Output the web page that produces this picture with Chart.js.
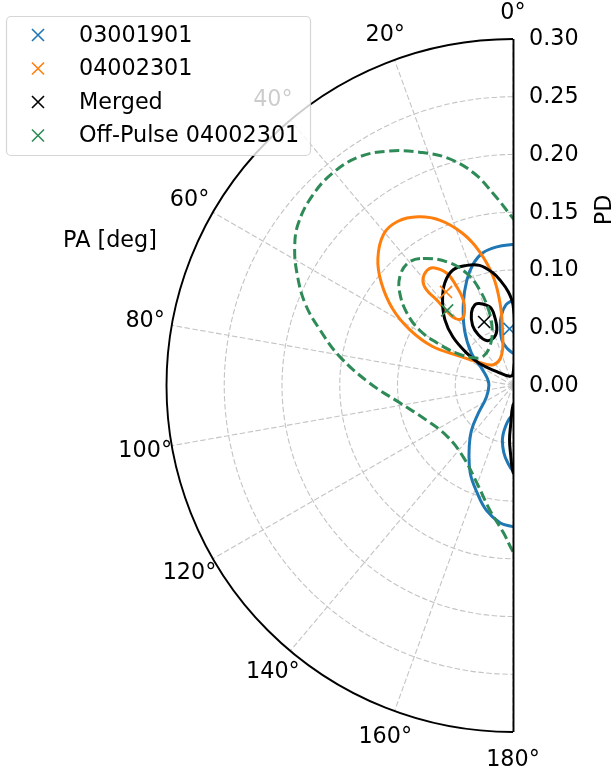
<!DOCTYPE html>
<html>
<head>
<meta charset="utf-8">
<script src="https://cdn.jsdelivr.net/npm/chart.js@4.4.0/dist/chart.umd.min.js"></script>
<style>
  html, body { margin: 0; padding: 0; background: #fff; }
  canvas { display: block; }
</style>
</head>
<body>
<canvas id="chart" width="614" height="774"></canvas>
<script>
// ----------------------------------------
// Polarisation confidence contours (PA / PD half-plane)
// points are in PD units: x = -PD*sin(PA), y = PD*cos(PA)
// ----------------------------------------

const pdTicks = [0, 0.05, 0.10, 0.15, 0.20, 0.25, 0.30];
const paTicks = [0, 20, 40, 60, 80, 100, 120, 140, 160, 180];
const seriesNames = ['03001901', '04002301', 'Merged', 'Off-Pulse 04002301'];

// 03001901 (blue) - open curves are cut by the 0/180 deg edge
const blueOuterX = [0.003, -0.001, -0.014, -0.026, -0.034, -0.040, -0.043, -0.042, -0.036, -0.026, -0.021, -0.023, -0.030, -0.036, -0.038, -0.037, -0.031, -0.023, -0.011, -0.001, 0.003];
const blueOuterY = [0.122, 0.122, 0.120, 0.115, 0.106, 0.091, 0.071, 0.048, 0.028, 0.013, 0.002, -0.010, -0.024, -0.039, -0.056, -0.076, -0.093, -0.108, -0.119, -0.122, -0.123];
const blueInnerX = [0.003, 0, -0.006, -0.010, -0.011, -0.0095, -0.005, 0, 0.003];
const blueInnerY = [0.076, 0.074, 0.070, 0.061, 0.051, 0.039, 0.032, 0.028, 0.027];
const blueLowerX = [0.003, 0, -0.005, -0.009, -0.008, -0.004, 0, 0.003];
const blueLowerY = [-0.023, -0.025, -0.032, -0.045, -0.058, -0.068, -0.074, -0.076];

// 04002301 (orange) - closed curves
const orangeOuterX = [-0.082, -0.063, -0.044, -0.029, -0.017, -0.011, -0.009, -0.010, -0.017, -0.029, -0.048, -0.070, -0.089, -0.104, -0.114, -0.117, -0.112, -0.100];
const orangeOuterY = [0.146, 0.143, 0.132, 0.116, 0.094, 0.070, 0.046, 0.026, 0.018, 0.020, 0.026, 0.034, 0.048, 0.066, 0.089, 0.110, 0.131, 0.142];
const orangeInnerX = [-0.069, -0.057, -0.049, -0.043, -0.042, -0.044, -0.050, -0.057, -0.066, -0.075, -0.078, -0.075];
const orangeInnerY = [0.102, 0.097, 0.086, 0.074, 0.064, 0.058, 0.058, 0.064, 0.074, 0.083, 0.091, 0.099];

// Merged (black)
const blackOuterX = [-0.052, -0.040, -0.029, -0.018, -0.011, -0.004, 0, 0.002, 0, -0.003, -0.014, -0.029, -0.040, -0.052, -0.059, -0.061, -0.059];
const blackOuterY = [0.100, 0.104, 0.104, 0.098, 0.091, 0.081, 0.070, 0.039, 0.010, 0.008, 0.012, 0.019, 0.028, 0.042, 0.057, 0.074, 0.089];
const blackInnerX = [-0.029, -0.020, -0.016, -0.014, -0.017, -0.023, -0.030, -0.035, -0.036, -0.033];
const blackInnerY = [0.071, 0.068, 0.060, 0.048, 0.041, 0.039, 0.044, 0.052, 0.063, 0.070];
const blackLowerX = [0.003, 0, -0.002, -0.003, -0.002, 0, 0.003];
const blackLowerY = [-0.014, -0.017, -0.034, -0.047, -0.060, -0.075, -0.078];

// Off-Pulse 04002301 (green, dashed)
const greenOuterX = [0.003, -0.001, -0.017, -0.034, -0.057, -0.081, -0.107, -0.133, -0.156, -0.174, -0.186, -0.189, -0.187, -0.180, -0.167, -0.150, -0.124, -0.098, -0.075, -0.057, -0.043, -0.031, -0.020, -0.008, -0.001, 0.003];
const greenOuterY = [0.141, 0.146, 0.166, 0.184, 0.197, 0.202, 0.203, 0.198, 0.184, 0.164, 0.140, 0.120, 0.097, 0.071, 0.048, 0.025, 0.002, -0.015, -0.030, -0.044, -0.062, -0.085, -0.108, -0.128, -0.142, -0.148];
const greenInnerX = [-0.078, -0.057, -0.040, -0.029, -0.021, -0.018, -0.020, -0.026, -0.034, -0.049, -0.066, -0.081, -0.092, -0.098, -0.098, -0.091];
const greenInnerY = [0.110, 0.107, 0.097, 0.083, 0.065, 0.048, 0.034, 0.025, 0.024, 0.028, 0.037, 0.048, 0.063, 0.080, 0.094, 0.106];

// best-fit markers
const markerX = [-0.003, -0.058, -0.025, -0.057];
const markerY = [0.049, 0.081, 0.055, 0.065];

const colors = ['#1f77b4', '#ff7f0e', '#000000', '#2e8b57'];
const FONT = '22.3px "DejaVu Sans", sans-serif';
const pdMax = 0.30;

function toPoints(xs, ys) {
  return xs.map((v, i) => ({ x: v, y: ys[i] }));
}

function contour(xs, ys, color, order, dashed, closed) {
  let data = toPoints(xs, ys);
  let segment;
  if (closed) {
    // wrap the loop so the spline has tangents at the join; helper segments are hidden
    const n = data.length;
    data = [data[n - 1]].concat(data, [data[0], data[1]]);
    segment = {
      borderColor: c => (c.p0DataIndex === 0 || c.p1DataIndex === n + 2) ? 'rgba(0,0,0,0)' : undefined
    };
  }
  return {
    data: data,
    showLine: true,
    borderColor: color,
    borderWidth: 3,
    borderDash: dashed ? [10, 4.5] : [],
    pointRadius: 0,
    tension: 0.4,
    clip: 0,
    order: order,
    segment: segment
  };
}

// grid, spine, labels and legend of the half polar axes
const polarFrame = {
  id: 'polarFrame',
  beforeDatasetsDraw(chart) {
    const { ctx, scales: { x, y } } = chart;
    const cx = x.getPixelForValue(0);
    const cy = y.getPixelForValue(0);
    const R = cx - x.getPixelForValue(-pdMax);

    ctx.save();
    ctx.strokeStyle = '#c4c4c4';
    ctx.lineWidth = 1.1;
    ctx.setLineDash([5.5, 2.5]);
    pdTicks.forEach(v => {
      if (v <= 0 || v >= pdMax) return;
      const r = cx - x.getPixelForValue(-v);
      ctx.beginPath();
      ctx.arc(cx, cy, r, -Math.PI / 2, Math.PI / 2, true);
      ctx.stroke();
    });
    paTicks.forEach(a => {
      const t = a * Math.PI / 180;
      ctx.beginPath();
      ctx.moveTo(cx, cy);
      ctx.lineTo(cx - R * Math.sin(t), cy - R * Math.cos(t));
      ctx.stroke();
    });
    ctx.restore();
  },
  afterDatasetsDraw(chart) {
    const { ctx, scales: { x, y } } = chart;
    const cx = x.getPixelForValue(0);
    const cy = y.getPixelForValue(0);
    const R = cx - x.getPixelForValue(-pdMax);

    ctx.save();
    // spines
    ctx.strokeStyle = '#000';
    ctx.lineWidth = 1.9;
    ctx.beginPath();
    ctx.arc(cx, cy, R, -Math.PI / 2, Math.PI / 2, true);
    ctx.stroke();
    ctx.beginPath();
    ctx.moveTo(cx + 0.5, cy - R);
    ctx.lineTo(cx + 0.5, cy + R);
    ctx.stroke();

    // tick labels
    ctx.fillStyle = '#000';
    ctx.font = FONT;
    ctx.textBaseline = 'middle';
    ctx.textAlign = 'center';
    paTicks.forEach(a => {
      const t = a * Math.PI / 180;
      const rl = R + 27;
      ctx.fillText(a + '°', cx - rl * Math.sin(t), cy - rl * Math.cos(t) + 1);
    });
    ctx.textAlign = 'left';
    pdTicks.forEach(v => {
      ctx.fillText(v.toFixed(2), cx + 16, y.getPixelForValue(v) + 0.5);
    });

    // axis labels
    ctx.textAlign = 'center';
    ctx.fillText('PA [deg]', 110, 241.5);
    ctx.save();
    ctx.translate(605, 210);
    ctx.rotate(-Math.PI / 2);
    ctx.fillText('PD', 0, 0);
    ctx.restore();

    // legend
    const bx = 6.5, by = 16.5, bw = 304, bh = 139, rad = 4.5;
    ctx.beginPath();
    ctx.roundRect(bx, by, bw, bh, rad);
    ctx.fillStyle = 'rgba(255,255,255,0.8)';
    ctx.fill();
    ctx.strokeStyle = 'rgba(204,204,204,0.8)';
    ctx.lineWidth = 1.2;
    ctx.stroke();

    const rows = [35, 68.5, 102, 135.5];
    seriesNames.forEach((name, i) => {
      const my = rows[i];
      ctx.strokeStyle = colors[i];
      ctx.lineWidth = 1.6;
      ctx.beginPath();
      ctx.moveTo(38 - 6, my - 6); ctx.lineTo(38 + 6, my + 6);
      ctx.moveTo(38 - 6, my + 6); ctx.lineTo(38 + 6, my - 6);
      ctx.stroke();
      ctx.fillStyle = '#000';
      ctx.textAlign = 'left';
      ctx.fillText(name, 79, my + 1);
    });
    ctx.restore();
  }
};

const datasets = [
  contour(blueOuterX, blueOuterY, colors[0], 4, false, false),
  contour(blueInnerX, blueInnerY, colors[0], 4, false, false),
  contour(blueLowerX, blueLowerY, colors[0], 4, false, false),
  contour(orangeOuterX, orangeOuterY, colors[1], 3, false, true),
  contour(orangeInnerX, orangeInnerY, colors[1], 3, false, true),
  contour(blackOuterX, blackOuterY, colors[2], 2, false, true),
  contour(blackInnerX, blackInnerY, colors[2], 2, false, true),
  contour(blackLowerX, blackLowerY, colors[2], 2, false, false),
  contour(greenOuterX, greenOuterY, colors[3], 1, true, false),
  contour(greenInnerX, greenInnerY, colors[3], 1, true, true)
];

markerX.forEach((mx, i) => {
  datasets.push({
    data: [{ x: mx, y: markerY[i] }],
    showLine: false,
    pointStyle: 'crossRot',
    pointRadius: 8.5,
    pointBorderWidth: 1.6,
    pointBorderColor: colors[i],
    order: 0
  });
});

new Chart(document.getElementById('chart'), {
  type: 'scatter',
  data: { datasets: datasets },
  options: {
    responsive: false,
    maintainAspectRatio: false,
    animation: false,
    layout: { padding: { left: 166.5, right: 101, top: 39, bottom: 42 } },
    scales: {
      x: { type: 'linear', min: -pdMax, max: 0, display: false },
      y: { type: 'linear', min: -pdMax, max: pdMax, display: false }
    },
    plugins: {
      legend: { display: false },
      tooltip: { enabled: false }
    },
    events: []
  },
  plugins: [polarFrame]
});
</script>
</body>
</html>
